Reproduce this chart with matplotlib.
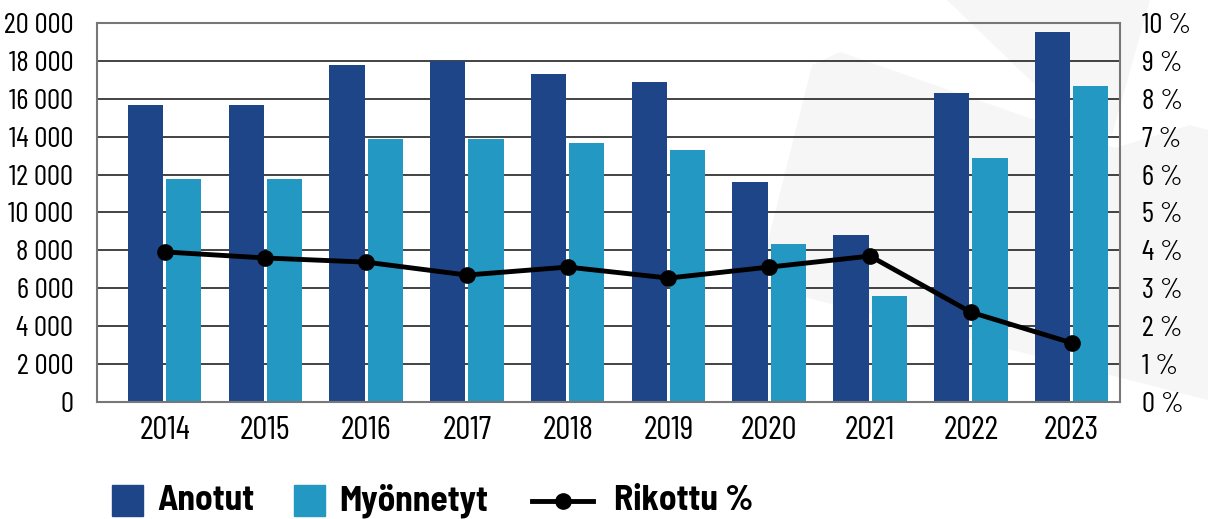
import matplotlib.pyplot as plt
from matplotlib.patches import Polygon, Rectangle
from matplotlib.lines import Line2D
import numpy as np

years = ["2014", "2015", "2016", "2017", "2018", "2019", "2020", "2021", "2022", "2023"]
anotut = [15650, 15650, 17800, 18000, 17300, 16900, 11600, 8800, 16300, 19500]
myonnetyt = [11750, 11750, 13900, 13900, 13650, 13300, 8350, 5600, 12850, 16650]
rikottu = [3.96, 3.80, 3.69, 3.35, 3.56, 3.27, 3.56, 3.85, 2.37, 1.56]

dark = "#1f4589"
light = "#2398c3"
W, H = 1208, 519

plt.rcParams['font.family'] = ['Barlow Condensed', 'DejaVu Sans']
fig = plt.figure(figsize=(12.08, 5.19), dpi=100)

# pixel coords (from top-left) -> figure coords
def px(pts):
    return [(x / W, 1 - y / H) for x, y in pts]

# faint watermark shapes in the background
for pts in [[(757, 285), (812, 65), (840, 52), (1115, 148), (1190, 125), (1208, 130), (1208, 400)],
            [(947, 0), (1150, 0), (1112, 135), (1080, 128)]]:
    fig.patches.append(Polygon(px(pts), closed=True, transform=fig.transFigure,
                               facecolor="#f6f6f6", edgecolor="none", zorder=-5))

ax = fig.add_axes([97 / W, 1 - 402 / H, (1120 - 97) / W, (402 - 23) / H])
ax.patch.set_alpha(0)
x = np.arange(len(years))
ax.bar(x - 0.19, anotut, width=0.35, color=dark, zorder=2)
ax.bar(x + 0.19, myonnetyt, width=0.35, color=light, zorder=2)
ax.set_xlim(-0.67, 9.48)
ax.set_ylim(0, 20000)
ax.set_yticks(range(0, 20001, 2000))
ax.set_yticklabels([f"{v:,}".replace(",", " ") for v in range(0, 20001, 2000)])
ax.set_xticks(x)
ax.set_xticklabels(years)
ax.yaxis.grid(True, color="#222222", linewidth=1.2, zorder=1)
ax.set_axisbelow(True)
for s in ax.spines.values():
    s.set_color("#777777")
    s.set_linewidth(1.5)
ax.tick_params(length=0)
ax.tick_params(axis="y", pad=17, labelsize=21)
ax.tick_params(axis="x", pad=10, labelsize=24)

ax2 = ax.twinx()
ax2.plot(x, rikottu, color="black", linewidth=3.5, marker="o", markersize=11, zorder=3)
ax2.set_ylim(0, 10)
ax2.set_yticks(range(0, 11))
ax2.set_yticklabels([f"{v} %" for v in range(0, 11)])
ax2.tick_params(length=0, labelsize=21, pad=16)
for s in ax2.spines.values():
    s.set_visible(False)

# legend, placed by hand
leg_y = 501
fig.patches.append(Rectangle(px([(112, 516)])[0], 31 / W, 31 / H, transform=fig.transFigure, color=dark))
fig.patches.append(Rectangle(px([(294, 516)])[0], 31 / W, 31 / H, transform=fig.transFigure, color=light))
(lx0, ly), (lx1, _) = px([(532, leg_y), (593, leg_y)])
fig.lines.append(Line2D([lx0, lx1], [ly, ly], transform=fig.transFigure, color="black", linewidth=3.5))
fig.lines.append(Line2D([(lx0 + lx1) / 2], [ly], transform=fig.transFigure, color="black",
                        marker="o", markersize=11))
for lx, label in [(157, "Anotut"), (339, "Myönnetyt"), (614, "Rikottu %")]:
    fig.text(lx / W, 1 - leg_y / H, label, fontsize=25.5, fontweight="bold", va="center", ha="left",
             family=["Barlow Semi Condensed", "DejaVu Sans"])

fig.savefig("out.png", dpi=100)
